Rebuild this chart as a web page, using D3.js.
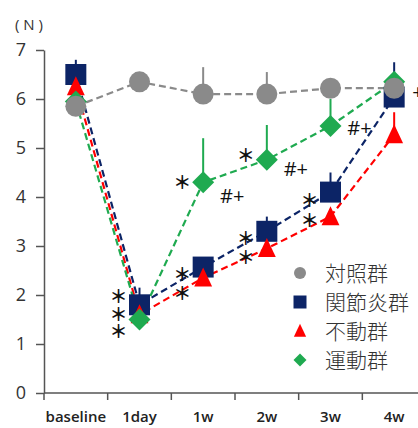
<!DOCTYPE html>
<html>
<head>
<meta charset="utf-8">
<script src="https://cdn.jsdelivr.net/npm/d3@7"></script>
<style>
  body { margin: 0; background: #fff; }
  svg { display: block; }
</style>
</head>
<body>
<svg id="chart" width="418" height="428"></svg>
<script>
// data
const categories = ["baseline", "1day", "1w", "2w", "3w", "4w"];
const yTicks = [0, 1, 2, 3, 4, 5, 6, 7];

const controlVals   = [5.85, 6.35, 6.1, 6.1, 6.22, 6.22];
const controlErr    = [null, null, 6.65, 6.55, null, null];
const arthritisVals = [6.5, 1.8, 2.57, 3.3, 4.1, 6.04];
const arthritisErr  = [6.8, 2.15, null, 3.6, 4.5, 6.75];
const immobVals     = [6.25, 1.6, 2.35, 2.95, 3.6, 5.27];
const immobErr      = [null, null, null, null, null, 5.73];
const exerciseVals  = [5.95, 1.5, 4.3, 4.76, 5.45, 6.35];
const exerciseErr   = [null, null, 5.2, 5.47, 6.0, null];

const legendNames = ["対照群", "関節炎群", "不動群", "運動群"];

// significance marks: category, value, text, side of the point
const marks = [
  {cat: "1day", v: 2.0,  t: "＊", side: "left"},
  {cat: "1day", v: 1.63, t: "＊", side: "left"},
  {cat: "1day", v: 1.27, t: "＊", side: "left"},
  {cat: "1w",   v: 2.43, t: "＊", side: "left"},
  {cat: "1w",   v: 2.05, t: "＊", side: "left"},
  {cat: "1w",   v: 4.31, t: "＊", side: "left"},
  {cat: "2w",   v: 3.17, t: "＊", side: "left"},
  {cat: "2w",   v: 2.78, t: "＊", side: "left"},
  {cat: "2w",   v: 4.86, t: "＊", side: "left"},
  {cat: "3w",   v: 3.95, t: "＊", side: "left"},
  {cat: "3w",   v: 3.55, t: "＊", side: "left"},
  {cat: "1w",   v: 4.02, t: "#+", side: "right"},
  {cat: "2w",   v: 4.57, t: "#+", side: "right"},
  {cat: "3w",   v: 5.41, t: "#+", side: "right"},
  {cat: "4w",   v: 6.14, t: "+",  side: "edge"}
];

let svg = d3.select("#chart");
let margin = {left: 44, top: 50, bottom: 393, right: 426};

let x = d3.scaleBand()
    .domain(categories)
    .range([margin.left, margin.right]);
let y = d3.scaleLinear()
    .domain([0, 7])
    .range([margin.bottom, margin.top]);

let cx = c => x(c) + x.bandwidth() / 2;

// marker shapes
function shape(sym, s){
    if(sym === "circle") return d3.symbol(d3.symbolCircle, Math.PI * s * s / 4)();
    if(sym === "square") return `M${-s/2},${-s/2}h${s}v${s}h${-s}Z`;
    if(sym === "triangle") return `M0,${-s*0.55}L${s*0.47},${s*0.45}L${-s*0.47},${s*0.45}Z`;
    return `M0,${-s/2}L${s/2},0L0,${s/2}L${-s/2},0Z`;
}

const series = [
    {name: legendNames[1], vals: arthritisVals, err: arthritisErr, color: "#0c2466", sym: "square",   size: 21},
    {name: legendNames[2], vals: immobVals,     err: immobErr,     color: "#ff0000", sym: "triangle", size: 19},
    {name: legendNames[3], vals: exerciseVals,  err: exerciseErr,  color: "#1faa50", sym: "diamond",  size: 22},
    {name: legendNames[0], vals: controlVals,   err: controlErr,   color: "#8a8a8a", sym: "circle",   size: 21}
];

// axes
let yAxis = svg.append("g")
    .attr("transform", `translate(${margin.left},0)`)
    .call(d3.axisLeft(y).tickValues(yTicks).tickFormat(d3.format("d")).tickSize(8).tickSizeOuter(0).tickPadding(10));
yAxis.select(".domain").attr("stroke", "#555").attr("stroke-width", 1.5);
yAxis.selectAll(".tick line").attr("stroke", "#555").attr("stroke-width", 1.5);
yAxis.selectAll(".tick text")
    .style("font-family", "'Open Sans', sans-serif")
    .style("font-size", "18px")
    .attr("fill", "#333");

let xAxis = svg.append("g").attr("transform", `translate(0,${margin.bottom})`);
xAxis.append("line")
    .attr("x1", margin.left).attr("x2", margin.right)
    .attr("stroke", "#555").attr("stroke-width", 1.5);
xAxis.selectAll(".bound")
    .data(categories.concat(["end"]))
    .enter().append("line")
    .attr("x1", (d, i) => margin.left + i * x.bandwidth())
    .attr("x2", (d, i) => margin.left + i * x.bandwidth())
    .attr("y1", 0).attr("y2", 7)
    .attr("stroke", "#555").attr("stroke-width", 1.5);
xAxis.selectAll(".lab")
    .data(categories)
    .enter().append("text")
    .attr("x", d => cx(d))
    .attr("y", 29)
    .attr("text-anchor", "middle")
    .style("font-family", "'Open Sans', sans-serif")
    .style("font-size", "15px")
    .style("font-weight", "600")
    .attr("fill", "#222")
    .text(d => d);

svg.append("text")
    .attr("x", 15).attr("y", 30)
    .style("font-family", "'Open Sans', sans-serif")
    .style("font-size", "15px")
    .attr("fill", "#333")
    .text("( N )");

// dashed lines
let line = d3.line().x((d, i) => cx(categories[i])).y(d => y(d));
let lineOrder = [series[3], series[0], series[1], series[2]];
svg.append("g").selectAll("path")
    .data(lineOrder)
    .enter().append("path")
    .attr("d", d => line(d.vals))
    .attr("fill", "none")
    .attr("stroke", d => d.color)
    .attr("stroke-width", 2.2)
    .attr("stroke-dasharray", "7,4");

// error bars + markers
series.forEach(s => {
    let g = svg.append("g");
    s.vals.forEach((v, i) => {
        if(s.err[i] != null){
            g.append("line")
                .attr("x1", cx(categories[i])).attr("x2", cx(categories[i]))
                .attr("y1", y(v)).attr("y2", y(s.err[i]))
                .attr("stroke", s.color).attr("stroke-width", 2);
        }
    });
    g.selectAll("path")
        .data(s.vals)
        .enter().append("path")
        .attr("transform", (d, i) => `translate(${cx(categories[i])},${y(d)})`)
        .attr("d", shape(s.sym, s.size))
        .attr("fill", s.color);
});

// significance marks
let offs = {left: -21, right: 29, edge: 18};
svg.append("g").selectAll("text")
    .data(marks)
    .enter().append("text")
    .attr("x", d => cx(d.cat) + offs[d.side])
    .attr("y", d => y(d.v))
    .attr("dy", d => d.t === "＊" ? "0.42em" : "0.36em")
    .attr("text-anchor", d => d.side === "edge" ? "start" : "middle")
    .style("font-family", d => d.t === "＊" ? "'Noto Sans CJK JP', sans-serif" : "'Open Sans', sans-serif")
    .style("font-size", d => d.t === "＊" ? "18px" : "20px")
    .style("font-weight", d => d.t === "＊" ? "700" : "400")
    .attr("fill", "#111")
    .text(d => d.t);

// legend
let legendOrder = [series[3], series[0], series[1], series[2]];
let legend = svg.append("g").attr("transform", "translate(300,273)");
legendOrder.forEach((s, i) => {
    let row = legend.append("g").attr("transform", `translate(0,${i * 29})`);
    row.append("path")
        .attr("d", shape(s.sym, s.sym === "circle" ? 12 : 13))
        .attr("fill", s.color);
    row.append("text")
        .attr("x", 25)
        .attr("dy", "0.36em")
        .style("font-family", "'Noto Sans CJK JP', sans-serif")
        .style("font-size", "21px")
        .style("font-weight", "300")
        .attr("fill", "#333")
        .text(s.name);
});
</script>
</body>
</html>
